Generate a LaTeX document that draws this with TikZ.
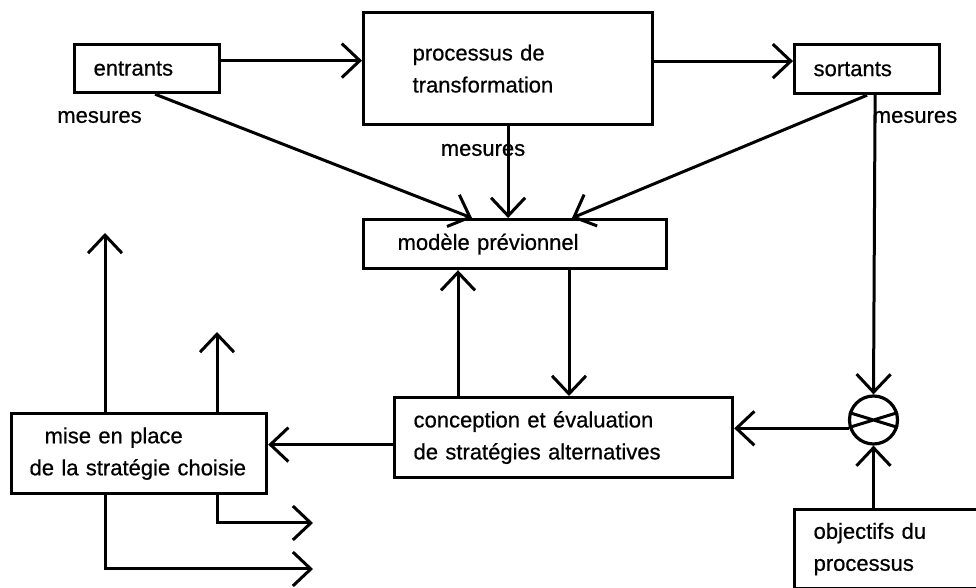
\documentclass[tikz,border=0pt]{standalone}
\usepackage{fontspec}
\setmainfont{Liberation Sans}[FakeBold=0.6]
\usepackage{tikz}
\usetikzlibrary{arrows.meta,calc}
\tikzset{
  ar/.style={-{Straight Barb[length=9pt,width=17pt]},line width=1.5pt},
  box/.style={draw,line width=1.6pt,anchor=north west,align=left,inner ysep=0pt,font=\fontsize{11}{16}\selectfont},
  lbl/.style={font=\fontsize{11}{16}\selectfont,inner sep=1pt},
  cmp/.style={circle,draw,line width=1.6pt,minimum size=24pt,inner sep=0pt}
}
\begin{document}
\begin{tikzpicture}[x=0.5pt,y=-0.5pt]
\useasboundingbox (0,0) rectangle (976,588);
\clip (0,0) rectangle (976,588);
\node[box,minimum width=72.5pt,minimum height=24pt,text width=53.5pt,inner xsep=9.5pt] (entrants) at (73,43) {entrants};
\node[box,minimum width=144.5pt,minimum height=56pt,text width=95.5pt,inner xsep=24.5pt] (procede) at (362,11) {processus de\\transformation};
\node[box,minimum width=72.5pt,minimum height=24.5pt,text width=53.5pt,inner xsep=9.5pt] (sortants) at (793,43) {sortants};
\node[box,minimum width=151.5pt,minimum height=24.5pt,text width=117.5pt,inner xsep=17pt] (modele) at (362,218) {modèle prévionnel};
\node[box,minimum width=169pt,minimum height=40pt,text width=150pt,inner xsep=9.5pt] (conception) at (393,396) {conception et évaluation\\de stratégies alternatives};
\node[box,minimum width=127.5pt,minimum height=40pt,text width=109.5pt,inner xsep=9pt] (mise) at (10,412) {\hspace*{7.5pt}mise en place\\de la stratégie choisie};
\node[box,minimum width=100pt,minimum height=39.5pt,text width=81pt,inner xsep=9.5pt] (objectifs) at (793,508) {objectifs du\\processus};
\node[cmp] (somme) at (873.5,420) {};
\node[lbl] (mesE) at (99.5,117) {mesures};
\node[lbl] (mesP) at (483,150) {mesures};
\node[lbl] (mesS) at (915,117) {mesures};
\coordinate (sortieA) at (105,233);
\coordinate (sortieB) at (217,332);
\coordinate (sortieC) at (313,523);
\coordinate (sortieD) at (313,569);
\draw[ar] ([yshift=4pt]entrants.east) -- ([yshift=4pt]procede.west |- entrants.east);
\draw[ar] ([yshift=4pt]procede.east |- sortants.west) -- ([yshift=4pt]sortants.west);
\draw[ar] ([xshift=4pt]entrants.south) -- ([xshift=55pt]modele.north west);
\draw[ar] (procede.south) -- (procede.south |- modele.north);
\draw[ar] (sortants.south) -- ([xshift=105pt]modele.north west);
\draw[ar] ([xshift=4pt]sortants.south) -- (somme.north);
\draw[ar] (somme.south |- objectifs.north) -- (somme.south);
\draw[line width=1.5pt] (somme.163) -- (somme.-17) (somme.197) -- (somme.17);
\draw[ar] (somme.199) -- (somme.199 -| conception.east);
\draw[ar] ([xshift=32.5pt]conception.north west) -- ([xshift=32.5pt]conception.north west |- modele.south);
\draw[ar] ([xshift=103.5pt]modele.south west) -- ([xshift=103.5pt]modele.south west |- conception.north);
\draw[ar] ([yshift=-3.5pt]conception.west) -- ([yshift=-3.5pt]conception.west -| mise.east);
\draw[ar] (mise.north -| sortieA) -- (sortieA);
\draw[ar] (mise.north -| sortieB) -- (sortieB);
\draw[ar] (mise.south -| sortieB) |- (sortieC);
\draw[ar] (mise.south -| sortieA) |- (sortieD);
\end{tikzpicture}
\end{document}
